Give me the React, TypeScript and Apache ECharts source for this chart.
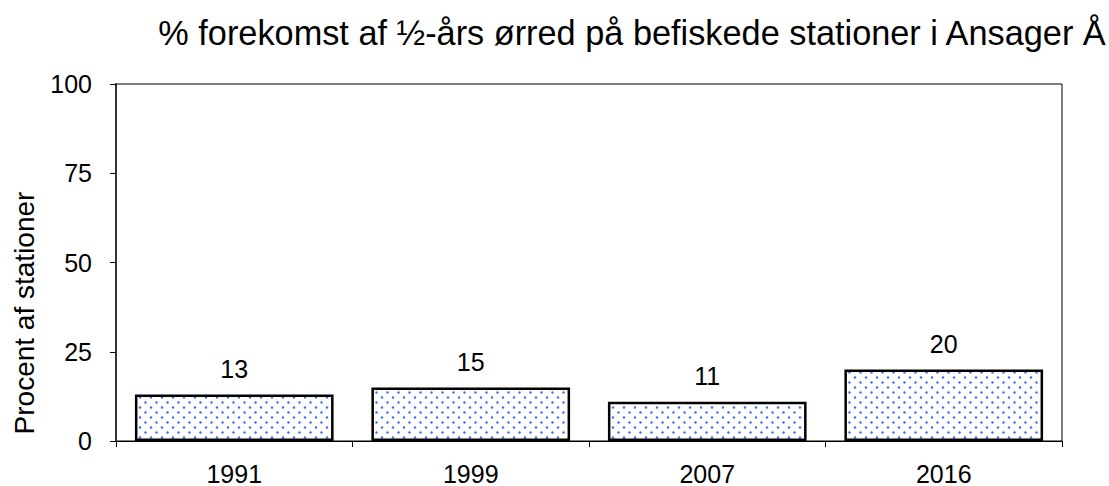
import React, { useEffect, useRef } from "react";
import * as echarts from "echarts";

const title = "% forekomst af ½-års ørred på befiskede stationer i Ansager Å";
const yAxisName = "Procent af stationer";
const years = ["1991", "1999", "2007", "2016"];
const values = [13, 15, 11, 20];
const yTicks = [0, 25, 50, 75, 100];

function makePattern(): HTMLCanvasElement {
  const c = document.createElement("canvas");
  c.width = 11;
  c.height = 10;
  const ctx = c.getContext("2d")!;
  ctx.fillStyle = "#ffffff";
  ctx.fillRect(0, 0, 11, 10);
  ctx.fillStyle = "#3f6ef2";
  ctx.beginPath();
  ctx.arc(2.5, 2.5, 1.2, 0, Math.PI * 2);
  ctx.fill();
  ctx.beginPath();
  ctx.arc(8, 7.5, 1.2, 0, Math.PI * 2);
  ctx.fill();
  return c;
}

export default function App() {
  const ref = useRef<HTMLDivElement>(null);
  useEffect(() => {
    if (!ref.current) return;
    const chart = echarts.init(ref.current, undefined, { renderer: "svg" });
    const font = "Liberation Sans, Arial, sans-serif";
    chart.setOption({
      animation: false,
      backgroundColor: "#ffffff",
      textStyle: { fontFamily: font },
      title: {
        text: title,
        left: 627,
        textAlign: "center",
        top: 11,
        textStyle: { fontFamily: font, fontSize: 34.3, fontWeight: "normal", color: "#000" },
      },
      graphic: [
        {
          type: "text",
          x: 24,
          y: 313,
          rotation: Math.PI / 2,
          style: {
            text: yAxisName,
            fontFamily: font,
            fontSize: 28,
            fill: "#000",
            align: "center",
            verticalAlign: "middle",
          },
        },
      ],
      grid: {
        left: 116,
        right: 47,
        top: 84,
        bottom: 44,
        show: true,
        borderColor: "#000",
        borderWidth: 1,
        backgroundColor: "transparent",
      },
      xAxis: {
        type: "category",
        data: years,
        boundaryGap: true,
        axisLine: { lineStyle: { color: "#000", width: 1 } },
        axisTick: { show: true, length: 6, lineStyle: { color: "#000" }, alignWithLabel: false },
        axisLabel: { color: "#000", fontSize: 25, fontFamily: font, margin: 20 },
      },
      yAxis: {
        type: "value",
        min: 0,
        max: 100,
        interval: 25,
        axisLine: { show: true, lineStyle: { color: "#333", width: 2 } },
        axisTick: { show: true, length: 6, lineStyle: { color: "#000" } },
        axisLabel: {
          color: "#000",
          fontSize: 25,
          fontFamily: font,
          margin: 24,
          formatter: (v: number) => (yTicks.includes(v) ? String(v) : ""),
        },
        splitLine: { show: false },
      },
      series: [
        {
          type: "bar",
          data: values,
          barCategoryGap: "16%",
          itemStyle: {
            color: { image: makePattern(), repeat: "repeat" } as any,
            borderColor: "#000",
            borderWidth: 2.5,
          },
          label: {
            show: true,
            position: "top",
            distance: 13,
            color: "#000",
            fontSize: 25,
            fontFamily: font,
          },
        },
      ],
    });
    return () => chart.dispose();
  }, []);
  return <div ref={ref} style={{ width: 1109, height: 486, position: "absolute", left: 0, top: 0 }} />;
}
